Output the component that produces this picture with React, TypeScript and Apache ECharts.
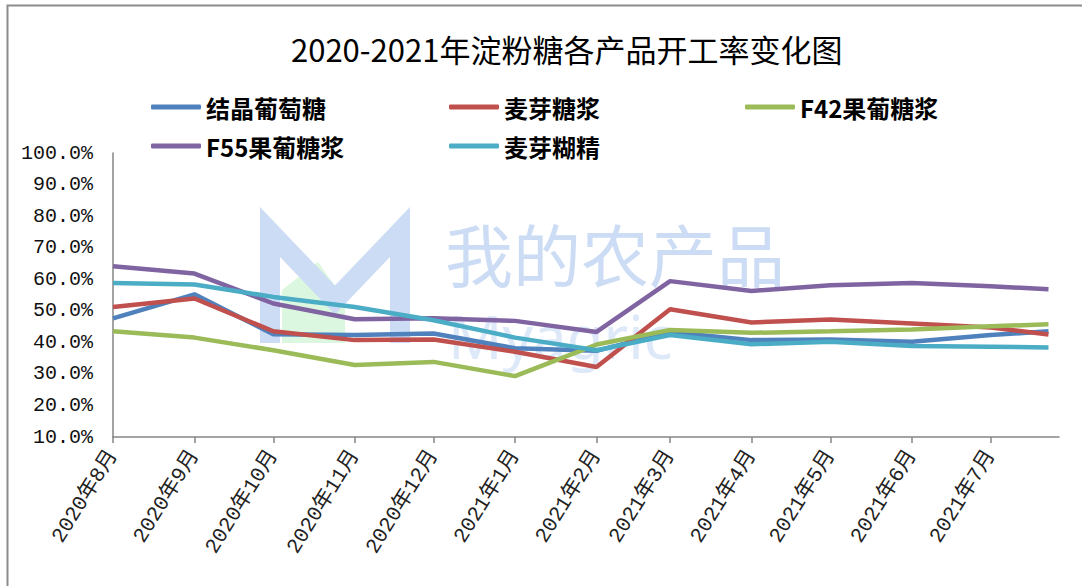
import React, { useEffect, useRef } from "react";
import * as echarts from "echarts";

const TITLE = "2020-2021年淀粉糖各产品开工率变化图";

// Dates of the data points (date axis)
const pointDates = [
  "2020-08-01", "2020-09-01", "2020-10-01", "2020-11-01", "2020-12-01", "2021-01-01",
  "2021-02-01", "2021-03-01", "2021-04-01", "2021-05-01", "2021-06-01", "2021-07-01", "2021-07-23",
];

// Tick positions and their labels
const tickDates = [
  "2020-08-01", "2020-09-01", "2020-10-01", "2020-11-01", "2020-12-01", "2021-01-01",
  "2021-02-01", "2021-03-01", "2021-04-01", "2021-05-01", "2021-06-01", "2021-07-01",
];
const tickLabels = [
  "2020年8月", "2020年9月", "2020年10月", "2020年11月", "2020年12月", "2021年1月",
  "2021年2月", "2021年3月", "2021年4月", "2021年5月", "2021年6月", "2021年7月",
];
const axisStartDate = "2020-08-01";
const axisEndDate = "2021-07-27";

const seriesNames = ["结晶葡萄糖", "麦芽糖浆", "F42果葡糖浆", "F55果葡糖浆", "麦芽糊精"];
const seriesColors = ["#4f81bd", "#c0504d", "#9bbb59", "#8064a2", "#4bacc6"];

const crystalGlucose = [47.6, 55.2, 42.6, 42.3, 42.8, 38.1, 37.3, 43.3, 40.7, 40.9, 40.2, 42.3, 43.5];
const maltoseSyrup = [51.2, 53.9, 43.5, 40.7, 40.9, 37.0, 32.2, 50.5, 46.3, 47.2, 46.0, 44.7, 42.5];
const hfcs42 = [43.5, 41.5, 37.5, 32.8, 33.8, 29.3, 39.3, 43.9, 43.0, 43.5, 44.1, 45.1, 45.7];
const hfcs55 = [64.1, 61.8, 52.3, 47.3, 47.6, 46.8, 43.3, 59.4, 56.3, 58.1, 58.8, 57.8, 56.8];
const maltodextrin = [58.8, 58.3, 54.4, 51.2, 47.0, 41.5, 37.5, 42.3, 39.4, 40.2, 38.8, 38.6, 38.4];

const yTicks = { min: 10, max: 100, interval: 10 };

function dayOf(s: string): number {
  const [y, m, d] = s.split("-").map(Number);
  const [y0, m0, d0] = axisStartDate.split("-").map(Number);
  return Math.round((Date.UTC(y, m - 1, d) - Date.UTC(y0, m0 - 1, d0)) / 86400000);
}

export default function App() {
  const ref = useRef<HTMLDivElement>(null);
  useEffect(() => {
    if (!ref.current) return;
    const chart = echarts.init(ref.current, null, { renderer: "svg" });
    const tickDays = tickDates.map(dayOf);
    const labelMap: Record<number, string> = {};
    tickDays.forEach((d, i) => (labelMap[d] = tickLabels[i]));
    const allValues = [crystalGlucose, maltoseSyrup, hfcs42, hfcs55, maltodextrin];
    const xs = pointDates.map(dayOf);

    const legendPos = [
      { left: 146, top: 90 },
      { left: 444, top: 90 },
      { left: 740, top: 90 },
      { left: 146, top: 129 },
      { left: 444, top: 129 },
    ];

    chart.setOption({
      animation: false,
      backgroundColor: "#ffffff",
      title: {
        text: TITLE,
        left: 286,
        top: 28,
        textStyle: {
          fontFamily: "'Noto Sans CJK SC'",
          fontSize: 31,
          fontWeight: "normal",
          color: "#000",
        },
      },
      legend: seriesNames.map((n, i) => ({
        data: [n],
        left: legendPos[i].left,
        top: legendPos[i].top,
        icon: "roundRect",
        itemWidth: 50,
        itemHeight: 5,
        textStyle: {
          fontFamily: "'Noto Sans CJK SC'",
          fontSize: 24,
          fontWeight: "bold",
          color: "#000",
        },
      })),
      graphic: [
        {
          type: "polyline",
          z: 0,
          silent: true,
          shape: { points: [[7.5, 586], [7.5, 5.5], [1082, 5.5]] },
          style: { stroke: "#8c8c8c", lineWidth: 2, fill: "none" },
        },
        {
          type: "polygon",
          z: 0,
          silent: true,
          shape: { points: [[282, 343], [282, 290], [318, 262], [345, 300], [345, 343]] },
          style: { fill: "#dcf7df" },
        },
        {
          type: "polyline",
          z: 0,
          silent: true,
          shape: { points: [[270, 343], [270, 232], [335, 300], [400, 232], [400, 343]] },
          style: { stroke: "#cbdcf4", lineWidth: 20, fill: "none", lineJoin: "miter" },
        },
        {
          type: "text",
          z: 0,
          silent: true,
          x: 445,
          y: 218,
          style: {
            text: "我的农产品",
            fontFamily: "'Noto Sans CJK SC'",
            fontSize: 68,
            fontWeight: "normal",
            fill: "#cbdcf4",
          },
        },
        {
          type: "text",
          z: 0,
          silent: true,
          x: 448,
          y: 306,
          style: {
            text: "Myagric",
            fontFamily: "'Noto Sans'",
            fontSize: 60,
            fill: "#dde8f8",
          },
        },
      ],
      grid: { left: 113, right: 23, top: 153, bottom: 149, containLabel: false },
      xAxis: {
        type: "value",
        min: 0,
        max: dayOf(axisEndDate),
        axisLine: { show: true, lineStyle: { color: "#868686", width: 1.5 } },
        axisTick: {
          show: true,
          customValues: tickDays,
          length: 6,
          inside: false,
          lineStyle: { color: "#868686", width: 1.5 },
        },
        splitLine: { show: false },
        axisLabel: {
          customValues: tickDays,
          rotate: 58,
          margin: 15,
          fontFamily: "'Liberation Mono', 'Noto Sans CJK SC'",
          fontSize: 21,
          color: "#222",
          formatter: (v: number) => labelMap[v] ?? "",
        },
      },
      yAxis: {
        type: "value",
        min: yTicks.min,
        max: yTicks.max,
        interval: yTicks.interval,
        axisLine: { show: true, lineStyle: { color: "#868686", width: 1.5 } },
        axisTick: { show: false },
        splitLine: { show: false },
        axisLabel: {
          margin: 20,
          fontFamily: "'Liberation Mono'",
          fontSize: 20,
          color: "#111",
          formatter: (v: number) => v.toFixed(1) + "%",
        },
      },
      series: seriesNames.map((n, i) => ({
        name: n,
        type: "line",
        z: 3,
        showSymbol: false,
        symbol: "none",
        color: seriesColors[i],
        lineStyle: { width: 4.5, color: seriesColors[i] },
        data: xs.map((x, j) => [x, allValues[i][j]]),
      })),
    });
    return () => chart.dispose();
  }, []);
  return (
    <div
      ref={ref}
      style={{ position: "fixed", left: 0, top: 0, width: 1082, height: 586, background: "#fff" }}
    />
  );
}
